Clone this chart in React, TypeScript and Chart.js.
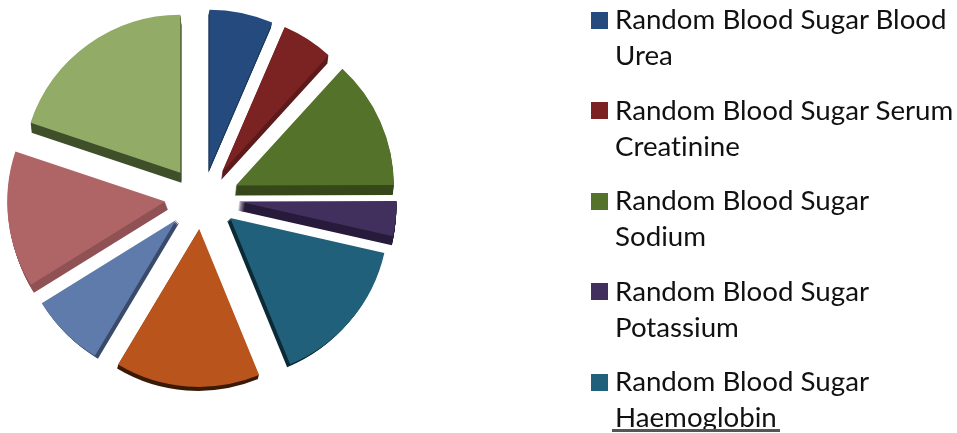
import React, { useEffect, useRef } from "react";
import { Chart, registerables } from "chart.js";

Chart.register(...registerables);

// Share of each test pairing, in percent, clockwise from twelve o'clock.
const shares = [6.5, 5.3, 13.2, 3.6, 15.3, 14.8, 7.6, 14.0, 19.9];

const categories = [
  "Random Blood Sugar Blood Urea",
  "Random Blood Sugar Serum Creatinine",
  "Random Blood Sugar Sodium",
  "Random Blood Sugar Potassium",
  "Random Blood Sugar Haemoglobin",
  "Other 1",
  "Other 2",
  "Other 3",
  "Other 4",
];

const legendLines = [
  ["Random Blood Sugar Blood", "Urea"],
  ["Random Blood Sugar Serum", "Creatinine"],
  ["Random Blood Sugar", "Sodium"],
  ["Random Blood Sugar", "Potassium"],
  ["Random Blood Sugar", "Haemoglobin"],
];

const faceColors = [
  "#254A7E", "#7B2222", "#55722A", "#412F5D", "#20607A",
  "#B9541C", "#5F7BAB", "#AF6466", "#92AB66",
];

const sideColors = [
  "#1B3659", "#5E1A1A", "#36481A", "#271A3A", "#0C2A35",
  "#3A1A05", "#3A4A6A", "#8F5153", "#3F4F2A",
];

// Direction and length of each slice's visible thickness.
const sideVectors = [
  [-1, 5], [-1, 8], [-1, 10], [-1, 9], [-3, 3],
  [-1, 4], [3, 3], [3, 8], [1, 10],
];

const explodeX = 37;
const explodeY = 31;

// Draws the slices pulled away from the centre, each on top of its own thickness.
const explodedSlices = {
  id: "explodedSlices",
  beforeDatasetDraw(chart: any, args: any) {
    const { ctx } = chart;
    args.meta.data.forEach((arc: any, i: number) => {
      const { x, y, startAngle, endAngle, outerRadius } = arc;
      const mid = (startAngle + endAngle) / 2;
      ctx.save();
      ctx.translate(Math.cos(mid) * explodeX, Math.sin(mid) * explodeY);
      const [dx, dy] = sideVectors[i];
      const steps = Math.max(Math.abs(dx), Math.abs(dy));
      ctx.fillStyle = sideColors[i];
      for (let s = 1; s <= steps; s++) {
        const ox = (dx * s) / steps;
        const oy = (dy * s) / steps;
        ctx.beginPath();
        ctx.moveTo(x + ox, y + oy);
        ctx.arc(x + ox, y + oy, outerRadius, startAngle, endAngle);
        ctx.closePath();
        ctx.fill();
      }
      arc.draw(ctx);
      ctx.restore();
    });
    return false;
  },
};

export default function App() {
  const canvasRef = useRef<HTMLCanvasElement | null>(null);

  useEffect(() => {
    const chart = new Chart(canvasRef.current as HTMLCanvasElement, {
      type: "pie",
      data: {
        labels: categories,
        datasets: [
          {
            data: shares,
            backgroundColor: faceColors,
            borderWidth: 0,
            radius: 158,
          } as any,
        ],
      },
      options: {
        responsive: false,
        animation: false,
        layout: { padding: { left: 0, top: 0, right: 553, bottom: 37 } },
        plugins: { legend: { display: false }, tooltip: { enabled: false } },
      },
      plugins: [explodedSlices],
    });
    return () => chart.destroy();
  }, []);

  return (
    <div
      style={{
        position: "fixed",
        left: 0,
        top: 0,
        width: 957,
        height: 433,
        overflow: "hidden",
        background: "#fff",
      }}
    >
      <canvas ref={canvasRef} width={957} height={433} style={{ display: "block" }} />
      {legendLines.map((lines, i) => (
        <div key={lines.join(" ")}>
          <div
            style={{
              position: "absolute",
              left: 591,
              top: 12 + i * 90.4,
              width: 17,
              height: 17,
              background: faceColors[i],
            }}
          />
          <div
            style={{
              position: "absolute",
              left: 615,
              top: 1 + i * 90.6,
              fontFamily: "Lato, sans-serif",
              fontSize: 27.7,
              fontVariantLigatures: "none",
              lineHeight: "36px",
              color: "#111",
              whiteSpace: "nowrap",
            }}
          >
            {lines.map((line, j) => {
              const cut = i === legendLines.length - 1 && j === 1;
              return (
                <div
                  key={line}
                  style={
                    cut
                      ? {
                          height: 30,
                          overflow: "hidden",
                          marginLeft: -3,
                          paddingLeft: 3,
                          width: 165,
                          borderBottom: "3px solid #555",
                        }
                      : undefined
                  }
                >
                  {line}
                </div>
              );
            })}
          </div>
        </div>
      ))}
    </div>
  );
}
